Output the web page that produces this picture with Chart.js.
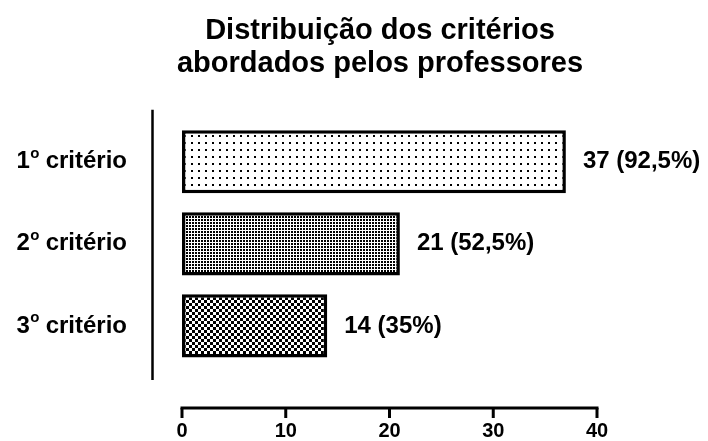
<!DOCTYPE html>
<html>
<head>
<meta charset="utf-8">
<script src="https://cdn.jsdelivr.net/npm/chart.js@4/dist/chart.umd.min.js"></script>
<style>
  html, body { margin: 0; padding: 0; background: #fff; }
  #wrap { width: 708px; height: 441px; }
</style>
</head>
<body>
<div id="wrap"><canvas id="c" width="708" height="441"></canvas></div>
<script>
// ---- data ----
const categoryNumbers = ['1', '2', '3'];
const categorySuffix = 'critério';
const categories = ['1º critério', '2º critério', '3º critério'];
const counts = [37, 21, 14];
const valueLabels = ['37 (92,5%)', '21 (52,5%)', '14 (35%)'];
const xTicks = [0, 10, 20, 30, 40];
const titleLines = ['Distribuição dos critérios', 'abordados pelos professores'];

const FONT = '"Liberation Sans", Arial, Helvetica, sans-serif';

function makePattern(kind) {
  const c = document.createElement('canvas');
  const ctx = c.getContext('2d');
  if (kind === 'sparse') {
    c.width = 7; c.height = 7;
    ctx.fillStyle = '#fff'; ctx.fillRect(0, 0, 7, 7);
    ctx.fillStyle = '#000'; ctx.fillRect(2, 2, 2, 2);
  } else if (kind === 'grid') {
    c.width = 3; c.height = 3;
    ctx.fillStyle = '#fff'; ctx.fillRect(0, 0, 3, 3);
    ctx.fillStyle = '#000'; ctx.fillRect(0, 0, 2, 2);
  } else {
    c.width = 6; c.height = 6;
    ctx.fillStyle = '#fff'; ctx.fillRect(0, 0, 6, 6);
    ctx.fillStyle = '#000'; ctx.fillRect(0, 0, 3, 3); ctx.fillRect(3, 3, 3, 3);
  }
  return ctx.createPattern(c, 'repeat');
}
const ctx0 = document.getElementById('c').getContext('2d');
const fills = [makePattern('sparse'), makePattern('grid'), makePattern('checker')];

const decor = {
  id: 'decor',
  afterDatasetsDraw(chart) {
    const ctx = chart.ctx;
    const ca = chart.chartArea;
    const xs = chart.scales.x;
    const ys = chart.scales.y;
    ctx.save();
    ctx.strokeStyle = '#000';
    ctx.lineCap = 'butt';
    // y axis line
    ctx.lineWidth = 2.5;
    const yx = ca.left - 29.5;
    ctx.beginPath(); ctx.moveTo(yx, ca.top - 11); ctx.lineTo(yx, ca.bottom + 13); ctx.stroke();
    // x axis line and ticks
    const ay = ca.bottom + 41;
    ctx.lineWidth = 3;
    ctx.beginPath();
    ctx.moveTo(xs.getPixelForValue(xTicks[0]) - 1.5, ay);
    ctx.lineTo(xs.getPixelForValue(xTicks[xTicks.length - 1]) + 1.5, ay);
    ctx.stroke();
    xTicks.forEach(v => {
      const px = xs.getPixelForValue(v);
      ctx.beginPath(); ctx.moveTo(px, ay); ctx.lineTo(px, ay + 10); ctx.stroke();
    });
    // category labels with superscript o
    ctx.fillStyle = '#000';
    ctx.textBaseline = 'middle';
    categories.forEach((cat, i) => {
      const py = ys.getPixelForValue(i);
      const big = 'bold 24px ' + FONT;
      const small = 'bold 15px ' + FONT;
      ctx.font = big;
      const wNum = ctx.measureText(categoryNumbers[i]).width;
      const wRest = ctx.measureText(' ' + categorySuffix).width;
      ctx.font = small;
      const wSup = ctx.measureText('o').width;
      const right = ca.left - 55;
      let x = right - wRest - wSup - wNum;
      ctx.textAlign = 'left';
      ctx.font = big;
      ctx.fillText(categoryNumbers[i], x, py);
      x += wNum;
      ctx.font = small;
      ctx.fillText('o', x + 0.5, py - 8);
      x += wSup;
      ctx.font = big;
      ctx.fillText(' ' + categorySuffix, x, py);
    });
    // value labels
    const meta = chart.getDatasetMeta(0);
    ctx.font = 'bold 24px ' + FONT;
    ctx.textAlign = 'left';
    meta.data.forEach((bar, i) => {
      ctx.fillText(valueLabels[i], bar.x + 17, bar.y);
    });
    ctx.restore();
  }
};

new Chart(ctx0, {
  type: 'bar',
  data: {
    labels: categories,
    datasets: [{
      data: counts,
      backgroundColor: fills,
      borderColor: '#000',
      borderWidth: 3.5,
      borderSkipped: false,
      barPercentage: 0.77,
      categoryPercentage: 1
    }]
  },
  options: {
    indexAxis: 'y',
    responsive: false,
    animation: false,
    devicePixelRatio: 1,
    layout: { padding: { left: 52, right: 0, top: 0, bottom: 0 } },
    plugins: {
      legend: { display: false },
      tooltip: { enabled: false },
      title: {
        display: true,
        text: titleLines,
        color: '#000',
        font: { family: FONT, size: 29, weight: 'bold', lineHeight: 1.15 },
        padding: { top: 14, bottom: 40 }
      }
    },
    scales: {
      x: {
        type: 'linear',
        min: 0, max: 40,
        afterBuildTicks: s => { s.ticks = xTicks.map(v => ({ value: v })); },
        afterFit: s => { s.height = 74; },
        grid: { display: false },
        border: { display: false },
        ticks: {
          color: '#000',
          font: { family: FONT, size: 20, weight: 'bold' },
          padding: 44,
          maxRotation: 0
        }
      },
      y: {
        type: 'category',
        offset: true,
        afterFit: s => { s.width = 130; },
        grid: { display: false },
        border: { display: false },
        ticks: { display: false }
      },
      y2: {
        type: 'category',
        position: 'right',
        offset: true,
        afterFit: s => { s.width = 111; },
        grid: { display: false },
        border: { display: false },
        ticks: { display: false }
      }
    }
  },
  plugins: [decor]
});
</script>
</body>
</html>
